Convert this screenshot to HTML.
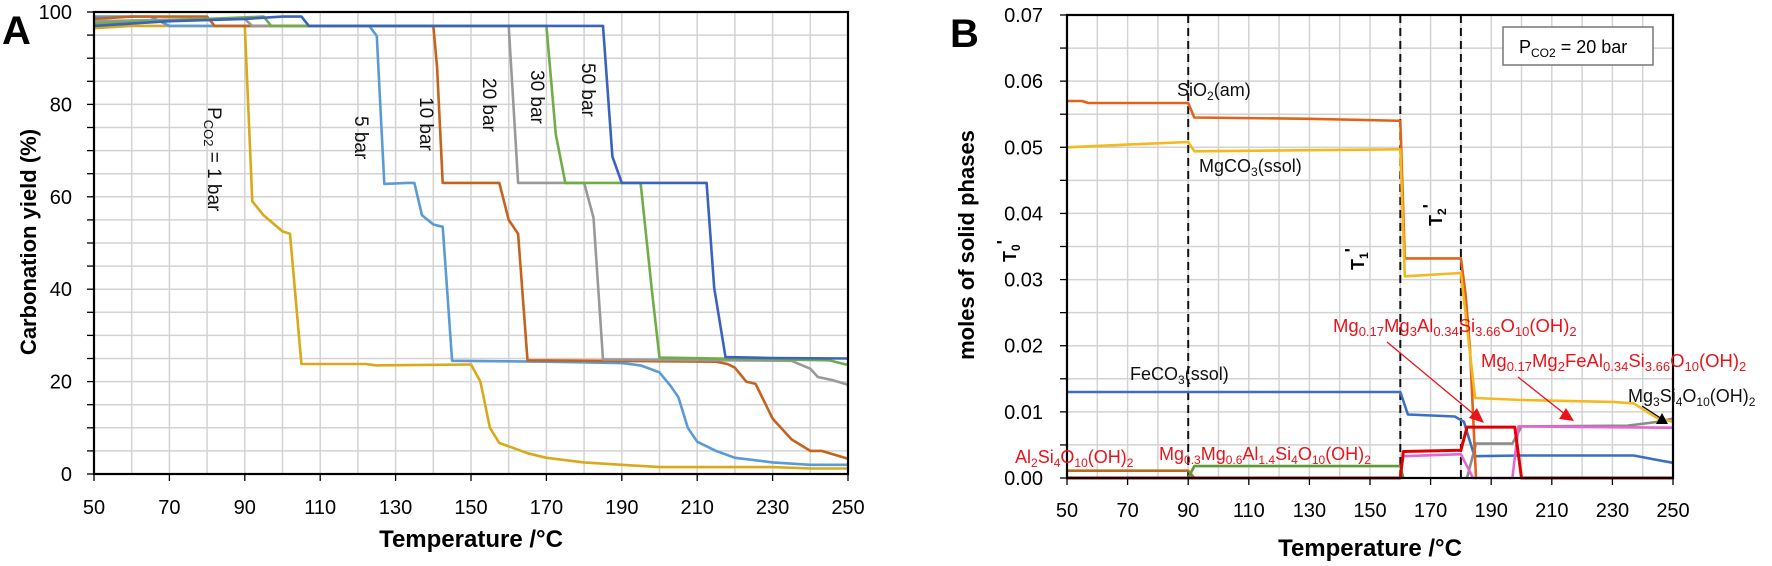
<!DOCTYPE html>
<html><head><meta charset="utf-8">
<style>
html,body{margin:0;padding:0;background:#fff;}
svg{display:block;font-family:"Liberation Sans",sans-serif;}
</style></head>
<body>
<svg id="s" width="1772" height="566" viewBox="0 0 1772 566" xmlns="http://www.w3.org/2000/svg">
<g id="grid"></g>
<g id="series"></g>
<g id="frames"></g>
<text x="2" y="44" font-size="40" font-weight="bold">A</text>
<text x="950" y="47" font-size="40" font-weight="bold">B</text>
<text transform="translate(36,242) rotate(-90)" text-anchor="middle" font-size="22" font-weight="bold">Carbonation yield (%)</text>
<text x="471" y="547" text-anchor="middle" font-size="24" font-weight="bold">Temperature /°C</text>
<text transform="translate(974,245) rotate(-90)" text-anchor="middle" font-size="22" font-weight="bold">moles of solid phases</text>
<text x="1370" y="556" text-anchor="middle" font-size="24" font-weight="bold">Temperature /°C</text>
<g id="ticks" font-size="20"></g>
<g font-size="19" fill="#111">
<text transform="translate(208,107) rotate(90)">P<tspan font-size="13" dy="4">CO2</tspan><tspan dy="-4"> = 1 bar</tspan></text>
<text transform="translate(355,116) rotate(90)">5 bar</text>
<text transform="translate(420,97) rotate(90)">10 bar</text>
<text transform="translate(483,78) rotate(90)">20 bar</text>
<text transform="translate(531,70) rotate(90)">30 bar</text>
<text transform="translate(582,63) rotate(90)">50 bar</text>
</g>
<rect x="1503" y="27" width="150" height="38" fill="#fff" stroke="#777" stroke-width="1.5"/>
<text x="1519" y="53" font-size="18">P<tspan font-size="12" dy="4">CO2</tspan><tspan dy="-4"> = 20 bar</tspan></text>
<g font-size="18" fill="#111">
<text x="1177" y="96">SiO<tspan font-size="12" dy="4">2</tspan><tspan dy="-4">(am)</tspan></text>
<text x="1199" y="172">MgCO<tspan font-size="12" dy="4">3</tspan><tspan dy="-4">(ssol)</tspan></text>
<text x="1130" y="380">FeCO<tspan font-size="12" dy="4">3</tspan><tspan dy="-4">(ssol)</tspan></text>
<text x="1628" y="402">Mg<tspan font-size="12" dy="4">3</tspan><tspan dy="-4">Si</tspan><tspan font-size="12" dy="4">4</tspan><tspan dy="-4">O</tspan><tspan font-size="12" dy="4">10</tspan><tspan dy="-4">(OH)</tspan><tspan font-size="12" dy="4">2</tspan></text>
</g>
<g font-size="18" fill="#e8141c">
<text x="1015" y="463">Al<tspan font-size="12" dy="4">2</tspan><tspan dy="-4">Si</tspan><tspan font-size="12" dy="4">4</tspan><tspan dy="-4">O</tspan><tspan font-size="12" dy="4">10</tspan><tspan dy="-4">(OH)</tspan><tspan font-size="12" dy="4">2</tspan></text>
<text x="1159" y="460">Mg<tspan font-size="12" dy="4">0.3</tspan><tspan dy="-4">Mg</tspan><tspan font-size="12" dy="4">0.6</tspan><tspan dy="-4">Al</tspan><tspan font-size="12" dy="4">1.4</tspan><tspan dy="-4">Si</tspan><tspan font-size="12" dy="4">4</tspan><tspan dy="-4">O</tspan><tspan font-size="12" dy="4">10</tspan><tspan dy="-4">(OH)</tspan><tspan font-size="12" dy="4">2</tspan></text>
<text x="1333" y="332" font-size="18.5">Mg<tspan font-size="13" dy="4">0.17</tspan><tspan dy="-4">Mg</tspan><tspan font-size="13" dy="4">3</tspan><tspan dy="-4">Al</tspan><tspan font-size="13" dy="4">0.34</tspan><tspan dy="-4">Si</tspan><tspan font-size="13" dy="4">3.66</tspan><tspan dy="-4">O</tspan><tspan font-size="13" dy="4">10</tspan><tspan dy="-4">(OH)</tspan><tspan font-size="13" dy="4">2</tspan></text>
<text x="1481" y="367" font-size="18.5">Mg<tspan font-size="13" dy="4">0.17</tspan><tspan dy="-4">Mg</tspan><tspan font-size="13" dy="4">2</tspan><tspan dy="-4">FeAl</tspan><tspan font-size="13" dy="4">0.34</tspan><tspan dy="-4">Si</tspan><tspan font-size="13" dy="4">3.66</tspan><tspan dy="-4">O</tspan><tspan font-size="13" dy="4">10</tspan><tspan dy="-4">(OH)</tspan><tspan font-size="13" dy="4">2</tspan></text>
</g>
<g font-size="18" font-weight="bold">
<text transform="translate(1016,262) rotate(-90)">T<tspan font-size="12" dy="4">0</tspan><tspan dy="-10">'</tspan></text>
<text transform="translate(1364,270) rotate(-90)">T<tspan font-size="12" dy="4">1</tspan><tspan dy="-10">'</tspan></text>
<text transform="translate(1442,226) rotate(-90)">T<tspan font-size="12" dy="4">2</tspan><tspan dy="-10">'</tspan></text>
</g>
<g stroke="#e8141c" stroke-width="1.3">
<line x1="1387" y1="342" x2="1476" y2="416"/>
<line x1="1518" y1="377" x2="1566" y2="415"/>
</g>
<polygon points="1484,423 1469,418 1477,408" fill="#e8141c"/>
<polygon points="1574,421 1559,419 1566,408" fill="#e8141c"/>
<line x1="1642" y1="406" x2="1662" y2="419" stroke="#000" stroke-width="1.3"/>
<polygon points="1668,424 1656,424 1662,413" fill="#000"/>
<script>
(function(){
var NS="http://www.w3.org/2000/svg";
function el(p,tag,a,txt){var e=document.createElementNS(NS,tag);for(var k in a)e.setAttribute(k,a[k]);if(txt!=null)e.textContent=txt;document.getElementById(p).appendChild(e);return e;}
var A={x0:94,x1:848,y0:474,y1:12};
function ax(t){return A.x0+(t-50)*(A.x1-A.x0)/200;}
function ay(v){return A.y0-(v)*(A.y0-A.y1)/100;}
var B={x0:1067,x1:1673,y0:478,y1:15};
function bx(t){return B.x0+(t-50)*(B.x1-B.x0)/200;}
function by(v){return B.y0-v*(B.y0-B.y1)/0.07;}
var gc="#d3d3d3";
for(var t=60;t<=250;t+=10){el("grid","line",{x1:ax(t),x2:ax(t),y1:A.y0,y2:A.y1,stroke:gc,"stroke-width":1.5});
 el("grid","line",{x1:bx(t),x2:bx(t),y1:B.y0,y2:B.y1,stroke:gc,"stroke-width":1.5});}
for(var v=5;v<=100;v+=5){el("grid","line",{x1:A.x0,x2:A.x1,y1:ay(v),y2:ay(v),stroke:gc,"stroke-width":1.5});
 el("ticks","line",{x1:A.x0-7,x2:A.x0,y1:ay(v),y2:ay(v),stroke:"#000","stroke-width":1.3});}
for(var i=1;i<=14;i++){var vv=i*0.005;el("grid","line",{x1:B.x0,x2:B.x1,y1:by(vv),y2:by(vv),stroke:gc,"stroke-width":1.5});
 el("ticks","line",{x1:B.x0-7,x2:B.x0,y1:by(vv),y2:by(vv),stroke:"#000","stroke-width":1.3});}
el("ticks","line",{x1:A.x0-7,x2:A.x0,y1:A.y0,y2:A.y0,stroke:"#000","stroke-width":1.3});
el("ticks","line",{x1:B.x0-7,x2:B.x0,y1:B.y0,y2:B.y0,stroke:"#000","stroke-width":1.3});
for(var v=0;v<=100;v+=20)el("ticks","text",{x:72,y:ay(v)+7,"text-anchor":"end"},String(v));
for(var i=0;i<=7;i++)el("ticks","text",{x:1043,y:by(i*0.01)+7,"text-anchor":"end"},(i*0.01).toFixed(2));
for(var t=50;t<=250;t+=20){el("ticks","text",{x:ax(t),y:514,"text-anchor":"middle"},String(t));
 el("ticks","line",{x1:ax(t),x2:ax(t),y1:A.y0,y2:A.y0+7,stroke:"#000","stroke-width":1.3});
 el("ticks","text",{x:bx(t),y:517,"text-anchor":"middle"},String(t));
 el("ticks","line",{x1:bx(t),x2:bx(t),y1:B.y0,y2:B.y0+7,stroke:"#000","stroke-width":1.3});}
function pl(fx,fy,d,c,w){var s=d.map(function(p){return fx(p[0]).toFixed(1)+","+fy(p[1]).toFixed(1)}).join(" ");
 el("series","polyline",{points:s,fill:"none",stroke:c,"stroke-width":w||2.6,"stroke-linejoin":"round"});}
pl(ax,ay,[[50,96.5],[60,97],[90,97],[92,59],[95,56],[100,52.5],[102,52],[105,23.8],[122,23.8],[125,23.5],[150,23.7],[152.5,20],[155,10],[157.5,6.7],[160,6],[165,4.5],[170,3.5],[180,2.5],[190,2],[200,1.5],[230,1.5],[240,1.2],[250,1.2]],"#d9a91a");
pl(ax,ay,[[50,99],[65,99],[70,97],[123,97],[125,94.8],[127,62.8],[133,63],[135,63],[137,56],[140,54],[142.5,53.5],[145,24.5],[170,24.3],[190,24],[195,23.5],[200,22],[203,19],[205,16.6],[207.5,10],[210,7],[215,5],[220,3.5],[230,2.5],[240,2],[250,2]],"#5b9bd5");
pl(ax,ay,[[50,98.5],[60,99],[80,99],[82,97],[140,97],[141,88],[142.5,63],[157.5,63],[160,55],[162.5,52],[165,24.6],[215,24.3],[218,23.8],[220,23],[223,20],[225.5,19.5],[230,12],[235,7.5],[240,5],[243,5],[250,3.3]],"#c5631d");
pl(ax,ay,[[50,98],[80,98.5],[90,98.5],[92,97],[160,97],[162.5,63],[180,63],[182.5,55.5],[185,24.8],[235,24.5],[240,22.8],[242,21],[246,20.3],[250,19.3]],"#999999");
pl(ax,ay,[[50,97.5],[80,98.5],[95,99],[97,97],[170,97],[172.5,73.5],[175,63],[195,63],[198,39.5],[200,25.2],[245,24.6],[250,23.6]],"#70ad47");
pl(ax,ay,[[50,97],[70,98],[90,98.5],[100,99],[105,99],[107,97],[185,97],[187.5,68.7],[190,63],[212.5,63],[214.5,40.3],[217.5,25.3],[230,25.1],[250,25]],"#3b62c0");
[90,160,180].forEach(function(t){el("series","line",{x1:bx(t),x2:bx(t),y1:B.y0,y2:B.y1,stroke:"#111","stroke-width":2,"stroke-dasharray":"8,5"});});
pl(bx,by,[[50,0.0011],[90,0.0011],[92,0]],"#b86a1e");
pl(bx,by,[[90,0],[92,0.0018],[160,0.0018],[161,0]],"#5e9a35");
pl(bx,by,[[50,0.013],[160,0.013],[162.5,0.0096],[178,0.0093],[181,0.0085],[184.5,0.0033],[200,0.0034],[237,0.0034],[244,0.0028],[250,0.0023]],"#3a6fc4");
pl(bx,by,[[182,0],[185,0.0052],[197,0.0052],[200,0.0078],[235,0.0079],[245,0.0085],[250,0.009]],"#8c8c8c");
pl(bx,by,[[50,0.057],[55,0.057],[57,0.0567],[90,0.0567],[92,0.0545],[130,0.0543],[160,0.054],[161.5,0.0332],[180,0.0332],[181.5,0.028],[183,0.0195],[185,0]],"#e3621a");
pl(bx,by,[[50,0.050],[70,0.0504],[90,0.0508],[92,0.0494],[160,0.0497],[161.5,0.0305],[180,0.031],[184.7,0.0121],[200,0.0118],[230,0.0115],[237,0.0113],[245,0.009],[250,0.0085]],"#f5b91e");
pl(bx,by,[[160,0],[161,0.0033],[180,0.0036],[184,0],[197,0],[199,0.0078],[250,0.0076]],"#e466d0");
pl(bx,by,[[50,0],[160,0],[161,0.004],[180,0.0042],[182,0.0077],[197.8,0.0077],[200,0],[250,0]],"#e00000",3);
el("frames","rect",{x:A.x0,y:A.y1,width:A.x1-A.x0,height:A.y0-A.y1,fill:"none",stroke:"#000","stroke-width":2.2});
el("frames","rect",{x:B.x0,y:B.y1,width:B.x1-B.x0,height:B.y0-B.y1,fill:"none",stroke:"#000","stroke-width":2.2});
})();
</script>
</svg>
</body></html>
